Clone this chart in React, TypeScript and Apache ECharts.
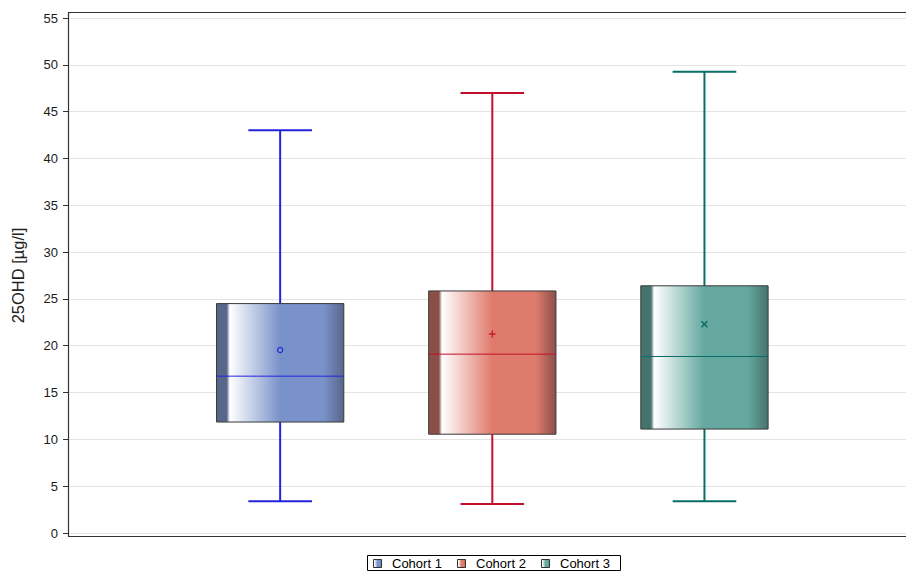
import React, { useEffect, useRef } from "react";
import * as echarts from "echarts";

const categories = ["Cohort 1", "Cohort 2", "Cohort 3"];
const positions = [1, 2, 3];
const mins = [3.4, 3.1, 3.4];
const q1s = [11.85, 10.55, 11.1];
const medians = [16.75, 19.1, 18.85];
const q3s = [24.5, 25.85, 26.4];
const maxs = [43.0, 47.0, 49.25];
const means = [19.55, 21.25, 22.3];
const yTicks = [0, 5, 10, 15, 20, 25, 30, 35, 40, 45, 50, 55];

const fills = ["#7a92ca", "#df7b6c", "#64a8a0"];
const darks = ["#56678a", "#8a5048", "#46736d"];
const lines = ["#2323dc", "#c0102c", "#0a6d66"];
const meanSymbols = ["circle", "plus", "cross"];

const FONT = "'Liberation Sans', Arial, Helvetica, sans-serif";

function gradient(i: number) {
  return new echarts.graphic.LinearGradient(0, 0, 1, 0, [
    { offset: 0, color: darks[i] },
    { offset: 0.08, color: darks[i] },
    { offset: 0.105, color: "#ffffff" },
    { offset: 0.5, color: fills[i] },
    { offset: 0.84, color: fills[i] },
    { offset: 1, color: darks[i] },
  ]);
}

export default function App() {
  const ref = useRef<HTMLDivElement>(null);
  useEffect(() => {
    if (!ref.current) return;
    const chart = echarts.init(ref.current, null, { renderer: "svg" });

    const series: any[] = categories.map((name, i) => ({
      type: "custom",
      name,
      renderItem: (params: any, api: any) => {
        const x = api.value(0);
        const pMin = api.coord([x, api.value(1)]);
        const pQ1 = api.coord([x, api.value(2)]);
        const pMed = api.coord([x, api.value(3)]);
        const pQ3 = api.coord([x, api.value(4)]);
        const pMax = api.coord([x, api.value(5)]);
        const pMean = api.coord([x, api.value(6)]);
        const unit = api.size([1, 0])[0];
        const bw = unit * 0.6;
        const cw = bw * 0.5;
        const cx = pMed[0];
        const col = lines[i];
        const wStyle = { stroke: col, lineWidth: 2 };
        const children: any[] = [
          { type: "line", shape: { x1: cx, y1: pMax[1], x2: cx, y2: pQ3[1] }, style: wStyle },
          { type: "line", shape: { x1: cx, y1: pQ1[1], x2: cx, y2: pMin[1] }, style: wStyle },
          { type: "line", shape: { x1: cx - cw / 2, y1: pMax[1], x2: cx + cw / 2, y2: pMax[1] }, style: wStyle },
          { type: "line", shape: { x1: cx - cw / 2, y1: pMin[1], x2: cx + cw / 2, y2: pMin[1] }, style: wStyle },
          {
            type: "rect",
            shape: { x: cx - bw / 2, y: pQ3[1], width: bw, height: pQ1[1] - pQ3[1] },
            style: { fill: gradient(i), stroke: "#3a3a3a", lineWidth: 1 },
          },
          {
            type: "line",
            shape: { x1: cx - bw / 2, y1: pMed[1], x2: cx + bw / 2, y2: pMed[1] },
            style: { stroke: col, lineWidth: 1 },
          },
        ];
        const mx = pMean[0];
        const my = pMean[1];
        const ms = { stroke: col, lineWidth: 1.2, fill: "none" };
        if (meanSymbols[i] === "circle") {
          children.push({ type: "circle", shape: { cx: mx, cy: my, r: 2.6 }, style: ms });
        } else if (meanSymbols[i] === "plus") {
          children.push({ type: "line", shape: { x1: mx - 3.5, y1: my, x2: mx + 3.5, y2: my }, style: ms });
          children.push({ type: "line", shape: { x1: mx, y1: my - 3.5, x2: mx, y2: my + 3.5 }, style: ms });
        } else {
          children.push({ type: "line", shape: { x1: mx - 3, y1: my - 3, x2: mx + 3, y2: my + 3 }, style: { ...ms, lineWidth: 1.5 } });
          children.push({ type: "line", shape: { x1: mx - 3, y1: my + 3, x2: mx + 3, y2: my - 3 }, style: { ...ms, lineWidth: 1.5 } });
        }
        return { type: "group", children };
      },
      encode: { x: 0, y: [1, 2, 3, 4, 5, 6] },
      data: [[positions[i], mins[i], q1s[i], medians[i], q3s[i], maxs[i], means[i]]],
      z: 3,
    }));

    const legendLeft = 367;
    const legendTop = 555;
    const itemStep = 84;
    const legendChildren: any[] = [
      {
        type: "rect",
        shape: { x: legendLeft + 0.5, y: legendTop + 0.5, width: 253, height: 15 },
        style: { fill: "#ffffff", stroke: "#000000", lineWidth: 1 },
      },
    ];
    categories.forEach((name, i) => {
      const ix = legendLeft + 6 + i * itemStep;
      legendChildren.push({
        type: "rect",
        shape: { x: ix + 0.5, y: legendTop + 4.5, width: 8, height: 8 },
        style: { fill: gradient(i), stroke: "#333333", lineWidth: 1 },
      });
      legendChildren.push({
        type: "text",
        x: ix + 19,
        y: legendTop + 8.5,
        style: {
          text: name,
          font: `13px ${FONT}`,
          fill: "#000000",
          verticalAlign: "middle",
          align: "left",
        },
      });
    });

    chart.setOption({
      animation: false,
      grid: { left: 68, right: 0, top: 18, bottom: 39, containLabel: false },
      xAxis: {
        type: "value",
        min: 0,
        max: 3.95,
        show: false,
        splitLine: { show: false },
      },
      yAxis: {
        type: "value",
        min: yTicks[0],
        max: yTicks[yTicks.length - 1],
        interval: 5,
        name: "25OHD [µg/l]",
        nameLocation: "middle",
        nameGap: 42,
        nameRotate: 90,
        nameTextStyle: { fontFamily: FONT, fontSize: 16.5, color: "#222222" },
        axisLine: { show: false },
        axisTick: { show: true, length: 5, lineStyle: { color: "#333333" } },
        axisLabel: { fontFamily: FONT, fontSize: 13, color: "#1a1a1a", margin: 10 },
        splitLine: { show: true, lineStyle: { color: "#e4e4e4", width: 1 } },
      },
      series,
      graphic: [
        {
          type: "rect",
          z: 10,
          silent: true,
          shape: { x: 68.5, y: 12.5, width: 900, height: 524 },
          style: { fill: "none", stroke: "#333333", lineWidth: 1.2 },
        },
        { type: "group", z: 10, children: legendChildren },
      ],
    });
    return () => chart.dispose();
  }, []);
  return (
    <div
      ref={ref}
      style={{ position: "fixed", left: 0, top: 0, width: 906, height: 572, background: "#ffffff" }}
    />
  );
}
